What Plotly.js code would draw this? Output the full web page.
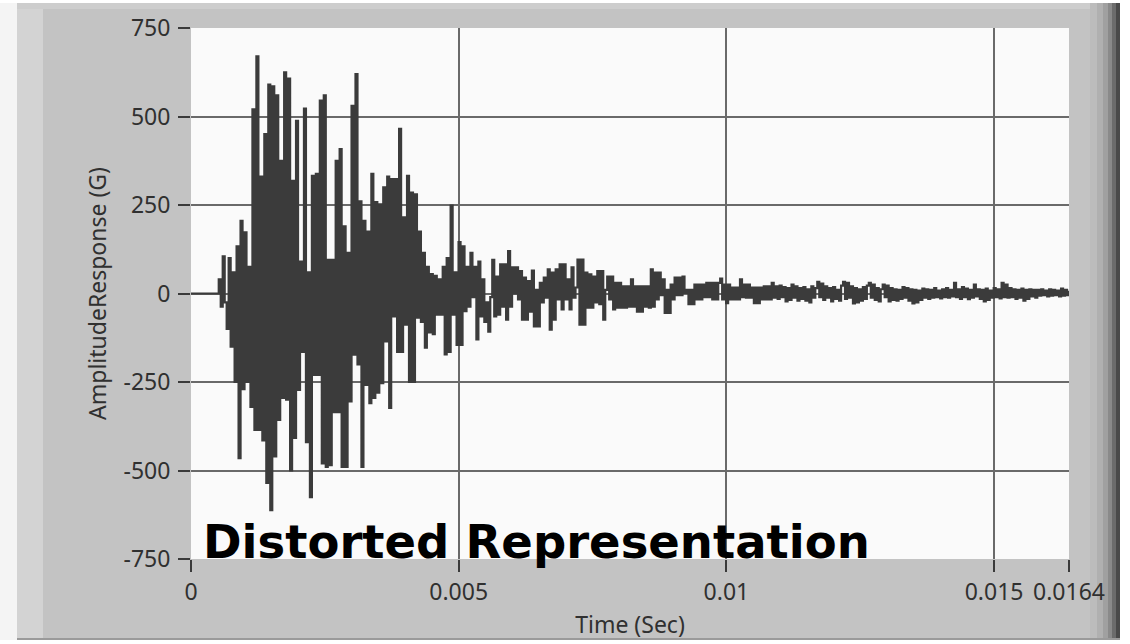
<!DOCTYPE html>
<html><head><meta charset="utf-8">
<script src="https://cdn.plot.ly/plotly-3.0.1.min.js"></script>
<style>html,body{margin:0;padding:0;background:#fff;}#chart{width:1130px;height:644px;}</style>
</head><body><div id="chart"></div>
<script>
// ---- data ----
const timeEnd = 0.0164;
const xTickVals = [0, 0.005, 0.01, 0.015];
const xTickText = ['0', '0.005', '0.01', '0.015'];
const xEndTickVals = [0.0164];
const xEndTickText = ['0.0164'];
const yTickVals = [-500, -250, 0, 250, 500, 750];
const yTickText = ['-500', '-250', '0', '250', '500', '750'];
const yEndTickVals = [-750];
const yEndTickText = ['-750'];

const preTrigger = [0,0,0,0,0,0,0,0,0,0,0,0,0,0];
const impactBurst = [
 40,-37,105,-25,-100,100,-150,60,-250,133,
 -465,205,-270,173,-250,75,-320,520,-385,670,
 -385,330,-415,450,-535,590,-612,585,-460,560,
 -357,375,-295,625,-300,607,-500,318,-408,488,
 -272,90,-165,522,-420,60,-575,332,-230,338,
 -230,545,-480,560,-490,95,-485,95,-335,375,
 -335,408,-490,190,-490,115,-305,530,-173,620,
 -200,260,-490,205,-258,175,-310,338,-295,258,
 -280,252,-253,300,-135,330,-323,323,-65,323,
 -165,465,-165,215,-88,332,-250,285,-250,280,
 -68,175,-80,115,-153,75,-110,55,-115,50,
 -60,40,-60,75,-172,100,-165,248,-60,60,
 -145,145,-145,133,-50,75,-37,115,-10,75,
 -130,90,-65,40,-80,-25,-108,-10,95,-65];
const decay = [
 48,-60,82,-37,82,-74,120,-37,74,0,
 74,-17,63,-74,45,-74,35,-51,65,-93,
 10,-93,30,-25,45,-12,68,-102,59,-74,
 68,-17,82,-45,82,-17,40,-45,74,-12,
 17,96,-88,96,-88,59,-40,54,-40,48,
 -25,63,-30,63,-74,10,48,-17,48,-45,
 30,-40,30,-40,20,-40,20,-37,40,-37,
 20,-51,20,-51,20,-37,20,-40,68,-37,
 59,-17,59,-5,40,-55,10,-55,25,-17,
 45,-5,45,-5,48,2,10,-30,10,-30,
 25,-17,25,-17,25,-10,30,-10,30,-17,
 30,-17,30,42,-17,25,-27,25,-17,17,
 -17,17,-17,40,-10,25,-12,25,-12,17,
 -27,17,-27,17,-17,20,-17,20,-17,30,
 -12,20,-15,22,-10,18,-22,15,-18,25,
 -12,20,-20,15];
const tail = [
 -15,18,-20,12,-25,20,-12,15,
 33,-10,28,
 -18,20,-12,15,-22,18,-15,10,-20,22,
 33,-15,30,-12,
 20,-28,15,-25,12,-20,18,-15,22,
 30,-12,25,
 -18,15,-22,12,
 25,-10,22,
 -22,15,-18,12,-20,10,-15,18,-12,
 15,-20,12,-28,10,-25,8,-18,14,-12,
 12,-15,10,-12,15,-10,8,-14,12,-10,15,-12,10,-8,
 30,-10,
 12,-15,18,-10,14,-16,10,-12,
 25,-8,
 12,-15,10,-22,14,-18,8,-12,15,-10,12,-14,
 30,-10,25,
 -12,15,-10,12,-15,10,-12,14,-20,10,-15,12,-8,10,-12,
 10,-6,12,-5,8,-8,12,-6,10,-5,8,-8,14,-6,10,-5,8];

const amplitude = preTrigger.concat(impactBurst, decay, tail);
const sampleStep = timeEnd / (amplitude.length - 1);

// ---- layout helpers ----
const W = 1130, H = 644, L = 191, R = 61, T = 28, B = 85;
const pw = W - L - R, ph = H - T - B;
const px = v => (v - L) / pw;
const py = v => (H - B - v) / ph;
function rect(x0, y0, x1, y1, color) {
  return {type: 'rect', xref: 'paper', yref: 'paper', x0: px(x0), x1: px(x1),
          y0: py(y1), y1: py(y0), fillcolor: color, line: {width: 0}, layer: 'below'};
}

const tickFont = {family: 'Noto Sans, Open Sans, sans-serif', size: 23, color: '#303030'};
const axisCommon = {
  tickmode: 'array', ticks: 'outside', ticklen: 12, tickwidth: 2, tickcolor: '#3a3a3a',
  tickfont: tickFont, zeroline: false, showline: false, fixedrange: true
};

const data = [
  {type: 'scatter', mode: 'lines', x0: 0, dx: sampleStep, y: amplitude,
   line: {color: '#3b3b3b', width: 2.2, shape: 'hv'}, hoverinfo: 'skip', showlegend: false},
  {type: 'scatter', mode: 'lines', x: [], y: [], xaxis: 'x2', yaxis: 'y2',
   hoverinfo: 'skip', showlegend: false}
];

const layout = {
  width: W, height: H,
  margin: {l: L, r: R, t: T, b: B, pad: 0},
  paper_bgcolor: '#c3c3c3', plot_bgcolor: '#fafafa',
  showlegend: false,
  xaxis: Object.assign({}, axisCommon, {
    range: [0, timeEnd], tickvals: xTickVals, ticktext: xTickText,
    showgrid: true, gridcolor: '#6a6a6a', gridwidth: 2,
    title: {text: 'Time (Sec)', font: tickFont, standoff: 11}
  }),
  xaxis2: Object.assign({}, axisCommon, {
    range: [0, timeEnd], tickvals: xEndTickVals, ticktext: xEndTickText,
    overlaying: 'x', anchor: 'y', side: 'bottom', showgrid: false
  }),
  yaxis: Object.assign({}, axisCommon, {
    range: [-750, 750], tickvals: yTickVals, ticktext: yTickText,
    showgrid: true, gridcolor: '#6a6a6a', gridwidth: 2, ticklabelstandoff: 3,
    title: {text: 'AmplitudeResponse (G)', font: tickFont, standoff: 10}
  }),
  yaxis2: Object.assign({}, axisCommon, {
    range: [-750, 750], tickvals: yEndTickVals, ticktext: yEndTickText,
    overlaying: 'y', anchor: 'x', side: 'left', showgrid: false, ticklabelstandoff: 3
  }),
  shapes: [
    rect(0, 0, 17, 644, '#f4f4f4'),
    rect(17, 3, 43, 640, '#d3d3d3'),
    rect(0, 0, 1130, 3, '#ffffff'),
    rect(17, 3, 1100, 9, '#cdcdcd'),
    rect(1090, 3, 1097, 640, '#bcbcbc'),
    rect(1097, 3, 1103, 640, '#b0b0b0'),
    rect(1103, 3, 1108, 640, '#a0a0a0'),
    rect(1108, 3, 1112, 640, '#8a8a8a'),
    rect(1112, 3, 1116, 640, '#6c6c6c'),
    rect(1116, 3, 1120, 640, '#4a4a4a'),
    rect(1120, 0, 1130, 644, '#ffffff'),
    rect(17, 638, 1120, 640, '#9a9a9a'),
    rect(0, 640, 1130, 644, '#ffffff')
  ],
  annotations: [{
    xref: 'paper', yref: 'paper', x: px(201), y: py(571), xanchor: 'left', yanchor: 'bottom',
    text: '<b>Distorted Representation</b>', showarrow: false,
    font: {family: 'DejaVu Sans, Noto Sans, sans-serif', size: 46.5, color: '#000000'}
  }]
};

Plotly.newPlot('chart', data, layout, {staticPlot: true, displayModeBar: false});
</script>
</body></html>
